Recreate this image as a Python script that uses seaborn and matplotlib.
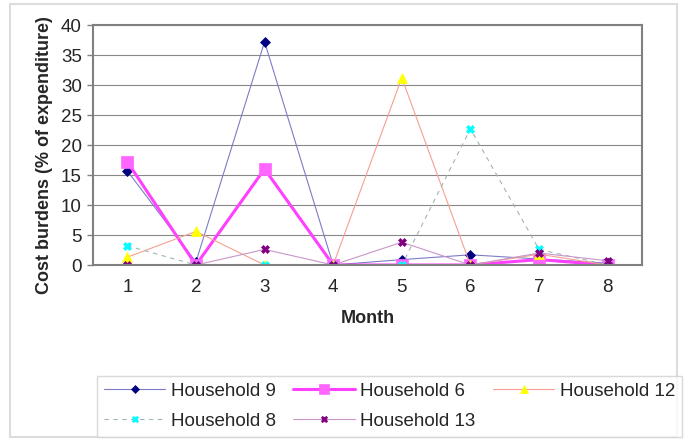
#!/usr/bin/env python
# coding: utf-8

import numpy as np
import pandas as pd
import matplotlib
matplotlib.use("Agg")
import matplotlib.pyplot as plt
import matplotlib.patches as mpatches
import seaborn as sns


# Data
months = [1, 2, 3, 4, 5, 6, 7, 8]
household_9 = [15.7, 0.5, 37.2, 0.0, 0.9, 1.7, 1.0, 0.3]
household_6 = [17.2, 0.0, 16.0, 0.0, 0.0, 0.0, 0.9, 0.0]
household_12 = [1.3, 5.6, 0.0, 0.0, 31.2, 0.0, 1.8, 0.0]
household_8 = [3.2, 0.0, 0.0, 0.0, 0.0, 22.7, 2.6, 0.0]
household_13 = [0.0, 0.0, 2.6, 0.0, 3.8, 0.0, 2.0, 0.7]


sns.set_style("white")
plt.rcParams['font.family'] = ['Liberation Sans', 'DejaVu Sans']

fig = plt.figure(figsize=(6.85, 4.4), dpi=100)
ax = fig.add_axes([93 / 685, 175 / 440, 549 / 685, 240 / 440])

df = pd.DataFrame({"Month": months})

### styles per series: (values, label, line colour, lw, dashes, marker, marker colour, marker size)
series = [
    (household_9, "Household 9", "#7c7cc8", 0.8, "", "D", "#000080", 5),
    (household_6, "Household 6", "#ff40ff", 2.2, "", "s", "#ff66ff", 9),
    (household_12, "Household 12", "#f5a090", 0.8, "", "^", "#ffff00", 7),
    (household_8, "Household 8", "#a0b4b4", 0.8, (4, 4), "X", "#00ffff", 6),
    (household_13, "Household 13", "#c896c8", 0.8, "", "X", "#800080", 6),
]

for vals, label, lc, lw, dash, mk, mc, ms in series:
    sns.lineplot(x=df["Month"], y=vals, ax=ax, label=label, color=lc,
                 linewidth=lw, marker=mk, markersize=ms,
                 markerfacecolor=mc, markeredgecolor=mc, markeredgewidth=0.5,
                 dashes=False)
    if dash:
        ax.get_lines()[-1].set_dashes(dash)

ax.set_xlim(0.5, 8.5)
ax.set_ylim(0, 40)
ax.set_yticks(np.arange(0, 41, 5))
ax.set_xticks(months)
ax.set_xticks(np.arange(0.5, 9, 1), minor=True)
ax.tick_params(axis='x', which='major', length=0, labelsize=13.5, pad=10)
ax.tick_params(axis='x', which='minor', length=5, color='#808080', width=1)
ax.tick_params(axis='y', length=4, color='#808080', width=1, labelsize=13.5, left=True, pad=4)
ax.yaxis.grid(True, color='#888888', linewidth=0.8)
for sp in ax.spines.values():
    sp.set_color('#808080')
    sp.set_linewidth(1.5)

ax.set_xlabel("Month", fontsize=13, fontweight='bold', labelpad=10)
ax.set_ylabel("Cost burdens (% of expenditure)", fontsize=13, fontweight='bold')
ax.yaxis.set_label_coords(-0.073, 0.458)

# legend in row-major order like the original
handles, labels = ax.get_legend_handles_labels()
ax.get_legend().remove()
order = [0, 3, 1, 4, 2]
leg = fig.legend([handles[i] for i in order], [labels[i] for i in order],
                 ncol=3, loc='upper left',
                 bbox_to_anchor=(97 / 685, 1 - 376 / 440),
                 frameon=True, fancybox=False, markerscale=0.75,
                 fontsize=13.5, handlelength=3.3, handletextpad=0.3,
                 columnspacing=0.9, borderaxespad=0, borderpad=0.35,
                 labelspacing=0.7)
leg.get_frame().set_edgecolor('#d0d0d0')
leg.get_frame().set_linewidth(1.0)

# outer chart border
fig.patches.append(mpatches.Rectangle((10 / 685, 3 / 440), 667 / 685, 433 / 440,
                                      transform=fig.transFigure, fill=False,
                                      edgecolor='#dcdcdc', linewidth=1.5))

fig.savefig("out.png", dpi=100)
